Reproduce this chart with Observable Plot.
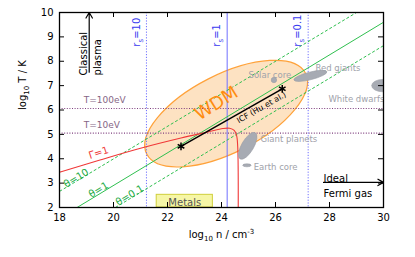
<!DOCTYPE html>
<html><head><meta charset="utf-8">
<script src="https://cdn.jsdelivr.net/npm/d3@7"></script>
<script src="https://cdn.jsdelivr.net/npm/@observablehq/plot@0.6"></script>
<style>
body{margin:0;background:#fff}
svg{font-family:"DejaVu Sans",sans-serif}
</style>
</head><body><div id="chart"></div>
<script>
// ---------- data ----------
const xTicks = [18, 20, 22, 24, 26, 28, 30];
const yTicks = [2, 3, 4, 5, 6, 7, 8, 9, 10];

// degeneracy lines theta = T/T_F (endpoints, log10 n, log10 T)
const thetaNames = ["θ=10", "θ=1", "θ=0.1"];
const thetaN1 = [18.0, 18.65, 20.07];
const thetaT1 = [2.66, 2.0, 2.0];
const thetaN2 = [29.0, 30.0, 30.0];
const thetaT2 = [10.0, 9.6, 8.64];
const thetaDash = [true, false, true];
const thetaLabelN = [18.62, 19.45, 20.6];
const thetaLabelT = [3.2, 2.72, 2.5];

// coupling Gamma = 1 curve
const gammaN = [18.0, 19.5, 21.0, 22.5, 23.5, 24.05, 24.3, 24.47, 24.56, 24.6, 24.62];
const gammaT = [3.45, 3.95, 4.43, 4.85, 5.1, 5.24, 5.25, 5.16, 4.95, 4.5, 2.0];
const gammaLabel = "Γ=1";
const gammaLabelN = 19.45, gammaLabelT = 4.24;

// Wigner-Seitz radius r_s lines
const rsNames = ["rₛ=10", "rₛ=1", "rₛ=0.1"];
const rsN = [21.22, 24.21, 27.21];
const rsDash = [true, false, true];
const rsLabelT = 8.6;

// temperature lines
const tempNames = ["T=100eV", "T=10eV"];
const tempT = [6.06, 5.05];
const tempLabelN = 18.9;

// WDM region
const wdmN = 24.19, wdmT = 5.83, wdmDN = 3.3, wdmDT = 1.6, wdmAngle = -27;
const wdmLabelN = 23.81, wdmLabelT = 6.27;

// ICF path (Hu et al.)
const icfN = [22.5, 26.25];
const icfT = [4.51, 6.87];
const icfLabelN = 25.48, icfLabelT = 6.1;

// astrophysical objects
const blobNames = ["Solar core", "Red giants", "White dwarfs", "Giant planets", "Earth core"];
const blobN = [25.96, 27.31, 30.0, 24.99, 24.96];
const blobT = [7.21, 7.38, 6.98, 4.51, 3.71];
const blobDN = [0.1, 0.63, 0.42, 0.56, 0.155];
const blobDT = [0.11, 0.156, 0.254, 0.25, 0.06];
const blobAngle = [0, -14, 0, -60, 0];
const blobLabelN = [25.0, 27.48, 27.96, 25.44, 25.19];
const blobLabelT = [7.42, 7.71, 6.46, 4.79, 3.65];

// metals box
const metalsN = [21.6, 23.68];
const metalsT = [2.0, 2.52];

// regime arrows
const classicalN = 19.1, classicalT = [7.55, 10.0];
const fermiN = [27.78, 30.0], fermiT = 3.03;

// ---------- helpers ----------
function ellipses(items, style) {
  return (index, scales, values, dims) => {
    const {x, y} = scales;
    const g = d3.create("svg:g");
    if (style.clipId) {
      g.append("clipPath").attr("id", style.clipId).append("rect")
        .attr("x", dims.marginLeft).attr("y", dims.marginTop)
        .attr("width", dims.width - dims.marginLeft - dims.marginRight)
        .attr("height", dims.height - dims.marginTop - dims.marginBottom);
      g.attr("clip-path", `url(#${style.clipId})`);
    }
    for (const e of items) {
      const cx = x(e.n), cy = y(e.t);
      const rx = Math.abs(x(e.n + e.dn) - cx), ry = Math.abs(y(e.t + e.dt) - cy);
      g.append("ellipse").attr("cx", 0).attr("cy", 0).attr("rx", rx).attr("ry", ry)
        .attr("transform", `translate(${cx},${cy}) rotate(${e.angle})`)
        .attr("fill", style.fill).attr("stroke", style.stroke)
        .attr("stroke-width", style.strokeWidth);
    }
    return g.node();
  };
}

const thetaData = thetaNames.map((name, i) => ({name, n1: thetaN1[i], t1: thetaT1[i], n2: thetaN2[i], t2: thetaT2[i], dash: thetaDash[i], ln: thetaLabelN[i], lt: thetaLabelT[i]}));
const gammaData = gammaN.map((n, i) => ({n, t: gammaT[i]}));
const rsData = rsNames.map((name, i) => ({name, n: rsN[i], dash: rsDash[i]}));
const tempData = tempNames.map((name, i) => ({name, t: tempT[i]}));
const icfData = icfN.map((n, i) => ({n, t: icfT[i]}));
const blobData = blobNames.map((name, i) => ({name, n: blobN[i], t: blobT[i], dn: blobDN[i], dt: blobDT[i], angle: blobAngle[i], ln: blobLabelN[i], lt: blobLabelT[i]}));
const wdmData = [{n: wdmN, t: wdmT, dn: wdmDN, dt: wdmDT, angle: wdmAngle}];

const W = 415, H = 257, mL = 59, mR = 32, mT = 12, mB = 50;
const pw = W - mL - mR, ph = H - mT - mB, tick = 5;

const green = "#2fbf4f", greenText = "#22aa44";
const blue = "#7070ff", blueText = "#3a3af0";
const purple = "#7f3f7f", purpleText = "#866686";
const red = "#f03838";
const grayFill = "#a7abb3", grayText = "#a0a2aa";

const chart = Plot.plot({
  width: W, height: H,
  marginLeft: mL, marginRight: mR, marginTop: mT, marginBottom: mB,
  x: {domain: [18, 30]},
  y: {domain: [2, 10]},
  style: {fontFamily: "DejaVu Sans, sans-serif", fontSize: "10px", background: "white", color: "black"},
  marks: [
    ellipses(wdmData, {fill: "#fde2c2", stroke: "#ffa23a", strokeWidth: 1.2}),
    Plot.rect([0], {x1: () => metalsN[0], x2: () => metalsN[1], y1: () => metalsT[0], y2: () => metalsT[1], fill: "#f6f6a6", stroke: "#cfcf3a", strokeWidth: 1}),
    Plot.text(["Metals"], {x: (metalsN[0] + metalsN[1]) / 2, y: 2.2, fill: "#555", fontSize: 10}),
    Plot.ruleY(tempData, {y: "t", stroke: purple, strokeWidth: 1.1, strokeDasharray: "1,1.6"}),
    Plot.ruleX(rsData.filter(d => d.dash), {x: "n", stroke: blue, strokeWidth: 1, strokeDasharray: "1.2,1.6"}),
    Plot.ruleX(rsData.filter(d => !d.dash), {x: "n", stroke: blue, strokeWidth: 1}),
    Plot.link(thetaData.filter(d => d.dash), {x1: "n1", y1: "t1", x2: "n2", y2: "t2", stroke: green, strokeWidth: 1, strokeDasharray: "3,2", clip: true}),
    Plot.link(thetaData.filter(d => !d.dash), {x1: "n1", y1: "t1", x2: "n2", y2: "t2", stroke: green, strokeWidth: 1, clip: true}),
    Plot.line(gammaData, {x: "n", y: "t", stroke: red, strokeWidth: 1.1, curve: "catmull-rom"}),
    ellipses(blobData, {fill: grayFill, stroke: "#9a9ea6", strokeWidth: 0.6, clipId: "plotclip"}),
    Plot.line(icfData, {x: "n", y: "t", stroke: "black", strokeWidth: 1.5}),
    Plot.dot(icfData, {x: "n", y: "t", symbol: "asterisk", r: 3.6, stroke: "black", strokeWidth: 1.5}),
    // labels
    Plot.text(thetaData, {x: "ln", y: "lt", text: "name", rotate: -31, fill: greenText, fontSize: 10}),
    Plot.text([gammaLabel], {x: gammaLabelN, y: gammaLabelT, rotate: -18, fill: red, fontSize: 10}),
    Plot.text(rsData, {x: "n", y: rsLabelT, text: "name", rotate: -90, textAnchor: "start", dx: -10, fill: blueText, fontSize: 10}),
    Plot.text(tempData, {x: tempLabelN, y: "t", text: "name", textAnchor: "start", dy: -8, fill: purpleText, fontSize: 9}),
    Plot.text(["WDM"], {x: wdmLabelN, y: wdmLabelT, rotate: -32, fill: "#ff8c10", fontSize: 18}),
    Plot.text(["ICF (Hu et al.)"], {x: icfLabelN, y: icfLabelT, rotate: -29.6, fill: "black", fontSize: 8}),
    Plot.text(blobData, {x: "ln", y: "lt", text: "name", textAnchor: "start", fill: grayText, fontSize: 8.5, clip: true}),
    // regime arrows
    Plot.arrow([0], {x1: classicalN, x2: classicalN, y1: classicalT[0], y2: classicalT[1], stroke: "black", strokeWidth: 1.2, headLength: 8}),
    Plot.text(["Classical\nplasma"], {x: classicalN, y: 7.42, rotate: -90, textAnchor: "start", lineHeight: 1.45, fill: "black", fontSize: 10}),
    Plot.arrow([0], {x1: fermiN[0], x2: fermiN[1], y1: fermiT, y2: fermiT, stroke: "black", strokeWidth: 1.2, headLength: 8}),
    Plot.text(["Ideal\nFermi gas"], {x: fermiN[0], y: 2.94, textAnchor: "start", lineHeight: 1.5, fill: "black", fontSize: 10}),
    // frame and inward ticks
    Plot.ruleX(xTicks, {stroke: "black", strokeWidth: 1, insetTop: ph - tick}),
    Plot.ruleX(xTicks, {stroke: "black", strokeWidth: 1, insetBottom: ph - tick}),
    Plot.ruleY(yTicks, {stroke: "black", strokeWidth: 1, insetRight: pw - tick}),
    Plot.ruleY(yTicks, {stroke: "black", strokeWidth: 1, insetLeft: pw - tick}),
    Plot.frame({stroke: "black", strokeWidth: 1.3}),
    Plot.axisX(xTicks, {tickSize: 0, tickPadding: 6, label: null, fontSize: 10}),
    Plot.axisY(yTicks, {tickSize: 0, tickPadding: 6, label: null, fontSize: 10}),
    Plot.text(["log₁₀ T / K"], {frameAnchor: "left", dx: -37, rotate: -90, fontSize: 10, fill: "black"}),
    Plot.text(["log₁₀ n / cm⁻³"], {frameAnchor: "bottom", dy: 30, fontSize: 10, fill: "black"})
  ]
});

// render Unicode sub/superscript characters as proper tspans
const scriptMap = {"ₛ": ["s", "sub"], "₁": ["1", "sub"], "₀": ["0", "sub"], "⁻": ["-", "sup"], "³": ["3", "sup"]};
d3.select(chart).selectAll("text").each(function() {
  if (this.querySelector("tspan")) return;
  const s = this.textContent;
  if (![...s].some(c => scriptMap[c])) return;
  const runs = [];
  for (const c of s) {
    const kind = scriptMap[c] ? scriptMap[c][1] : "normal";
    const ch = scriptMap[c] ? scriptMap[c][0] : c;
    if (runs.length && runs[runs.length - 1].kind === kind) runs[runs.length - 1].text += ch;
    else runs.push({kind, text: ch});
  }
  const t = d3.select(this);
  t.text(null);
  let shift = 0;
  for (const r of runs) {
    const target = r.kind === "sub" ? 3 : r.kind === "sup" ? -4 : 0;
    const ts = t.append("tspan").text(r.text).attr("dy", target - shift);
    if (r.kind !== "normal") ts.attr("font-size", "7px");
    shift = target;
  }
});

document.getElementById("chart").appendChild(chart);
</script>
</body></html>
